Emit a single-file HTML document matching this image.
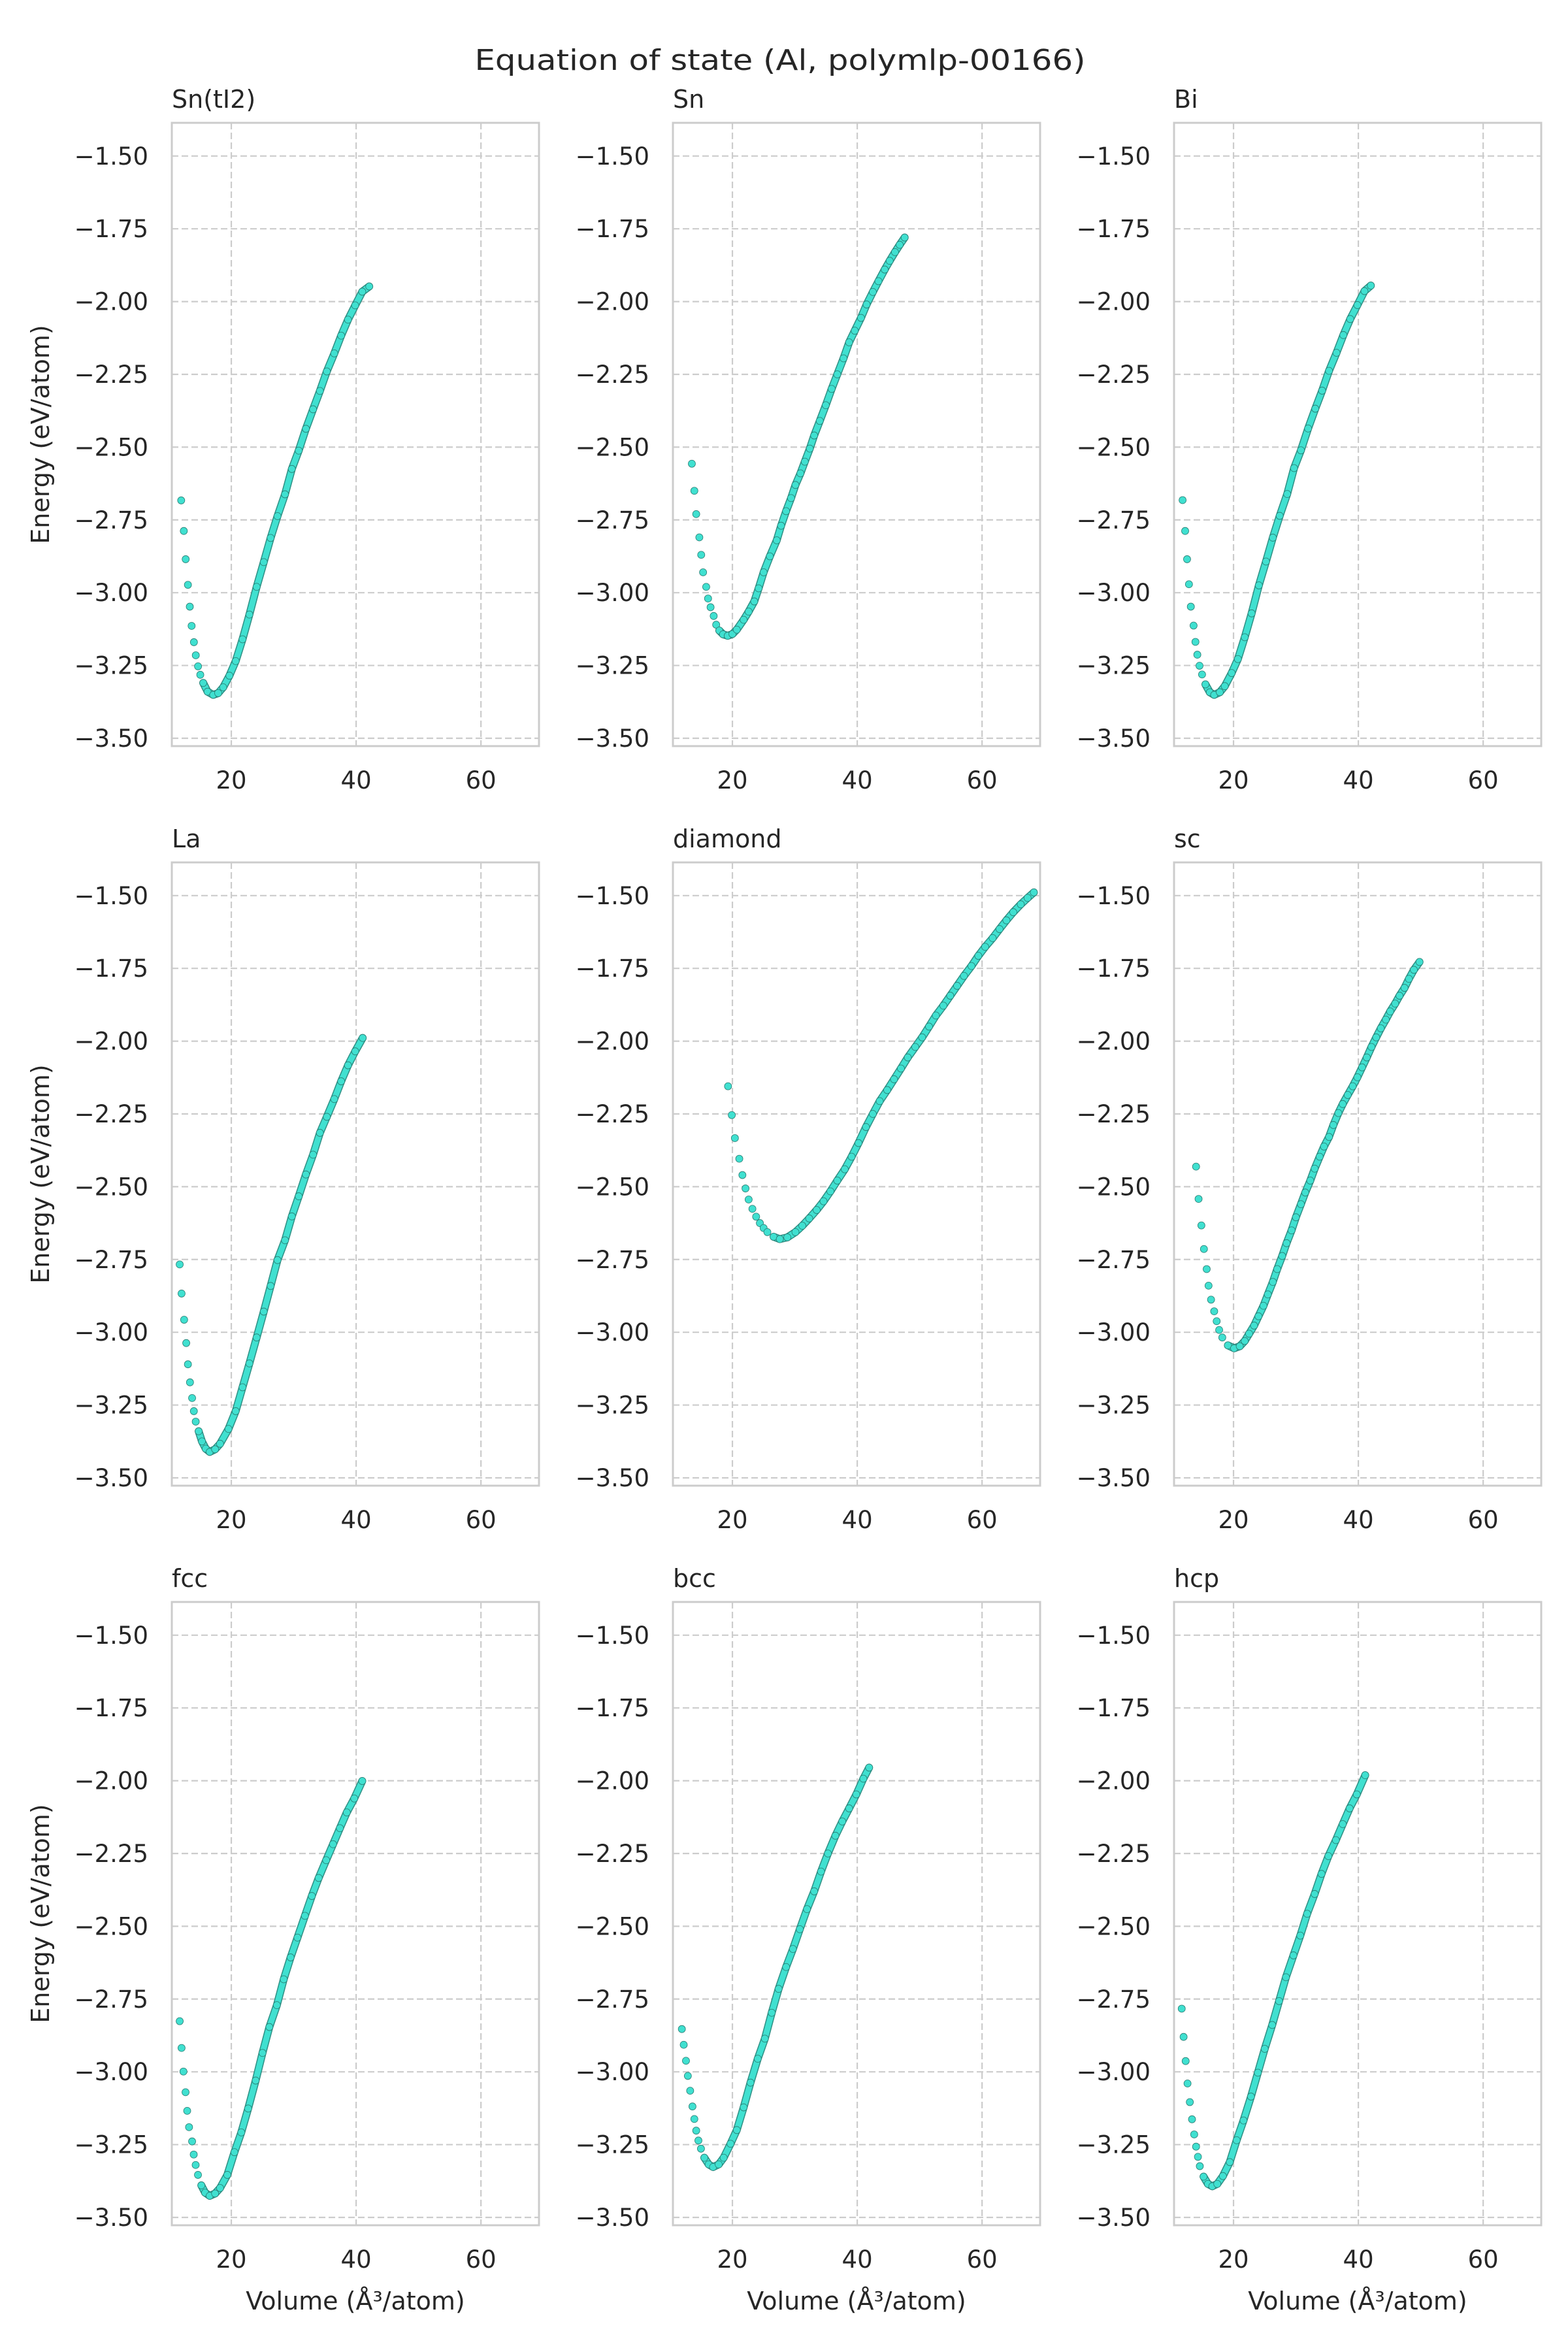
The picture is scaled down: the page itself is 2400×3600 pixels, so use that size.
<!DOCTYPE html>
<html><head><meta charset="utf-8"><style>
html,body{margin:0;padding:0;background:#fff;}
svg{display:block;font-family:"DejaVu Sans","Liberation Sans",sans-serif;}
</style></head><body>
<svg id="fig" width="2400" height="3600" viewBox="0 0 2400 3600">
<text x="1194" y="107" text-anchor="middle" font-size="44" fill="#262626" textLength="935" lengthAdjust="spacingAndGlyphs">Equation of state (Al, polymlp-00166)</text>
</svg>
<script>
// ---- data ----
const panelNames = ["Sn(tI2)","Sn","Bi","La","diamond","sc","fcc","bcc","hcp"];
const xTicks = [20,40,60];
const yTicks = [-1.5,-1.75,-2.0,-2.25,-2.5,-2.75,-3.0,-3.25,-3.5];
const yTickLabels = ["\u22121.50","\u22121.75","\u22122.00","\u22122.25","\u22122.50","\u22122.75","\u22123.00","\u22123.25","\u22123.50"];
const xTickLabels = ["20","40","60"];

const vSnTI2 = [11.97,12.39,12.69,13.05,13.35,13.64,14.01,14.31,14.67,15.03,15.5,16.2,17.1,17.9,18.7,19.7,20.7,21.8,22.9,24.06,25.2,26.3,27.4,28.6,29.7,30.8,31.95,33.1,34.2,35.3,36.5,37.6,38.7,39.85,40.98,42.1];
const eSnTI2 = [-2.683,-2.788,-2.885,-2.973,-3.048,-3.114,-3.17,-3.215,-3.253,-3.282,-3.31,-3.34,-3.351,-3.345,-3.325,-3.285,-3.235,-3.16,-3.075,-2.98,-2.895,-2.812,-2.737,-2.662,-2.575,-2.512,-2.437,-2.37,-2.307,-2.24,-2.178,-2.117,-2.062,-2.013,-1.966,-1.948];
const vSn = [13.5,13.9,14.2,14.7,15.0,15.3,15.8,16.1,16.5,17.0,17.4,17.9,18.5,19.25,20.0,20.7,21.8,22.6,23.5,24.2,25.0,26.0,27.1,27.8,28.6,29.4,30.1,30.9,31.6,32.4,33.1,34.0,34.96,35.9,36.8,37.8,38.7,39.6,40.6,41.5,42.5,43.4,44.4,45.2,46.05,46.8,47.6];
const eSn = [-2.557,-2.65,-2.73,-2.81,-2.87,-2.93,-2.98,-3.02,-3.05,-3.08,-3.11,-3.13,-3.143,-3.148,-3.142,-3.127,-3.093,-3.065,-3.03,-2.985,-2.93,-2.875,-2.82,-2.77,-2.72,-2.675,-2.63,-2.59,-2.55,-2.505,-2.46,-2.41,-2.356,-2.30,-2.25,-2.195,-2.14,-2.1,-2.056,-2.01,-1.967,-1.93,-1.89,-1.86,-1.83,-1.805,-1.78];
const vBi = [11.84,12.25,12.56,12.86,13.16,13.6,13.9,14.2,14.55,14.96,15.5,16.2,16.9,17.8,18.6,19.7,20.7,21.8,22.9,24.06,25.2,26.3,27.4,28.6,29.7,30.8,31.95,33.1,34.2,35.3,36.5,37.6,38.7,39.85,40.98,42.0];
const eBi = [-2.682,-2.788,-2.885,-2.971,-3.048,-3.113,-3.169,-3.213,-3.251,-3.281,-3.315,-3.342,-3.351,-3.342,-3.321,-3.276,-3.228,-3.153,-3.071,-2.975,-2.893,-2.811,-2.736,-2.661,-2.572,-2.511,-2.436,-2.368,-2.306,-2.238,-2.176,-2.115,-2.06,-2.012,-1.964,-1.945];
const vLa = [11.73,12.03,12.44,12.78,13.05,13.38,13.72,14.0,14.3,14.77,15.3,15.9,16.54,17.4,18.2,19.55,20.7,21.8,22.9,24.06,25.2,26.3,27.4,28.6,29.7,30.8,31.95,33.1,34.2,35.3,36.5,37.6,38.7,39.85,41.05];
const eLa = [-2.767,-2.867,-2.957,-3.037,-3.11,-3.172,-3.226,-3.271,-3.307,-3.34,-3.375,-3.4,-3.411,-3.402,-3.383,-3.332,-3.271,-3.189,-3.107,-3.018,-2.929,-2.841,-2.752,-2.684,-2.602,-2.533,-2.458,-2.39,-2.315,-2.26,-2.199,-2.138,-2.083,-2.035,-1.989];
const vDiamond = [19.3,19.9,20.4,21.1,21.6,22.1,22.6,23.2,23.8,24.4,25.0,25.6,26.6,27.6,28.8,30.1,31.2,32.3,33.5,34.6,35.7,36.8,38.0,39.1,40.2,41.4,42.5,43.6,44.8,45.9,47.0,48.1,49.3,50.4,51.5,52.6,53.8,54.9,56.0,57.1,58.3,59.4,60.5,61.7,62.8,63.9,65.0,66.2,67.3,68.3];
const eDiamond = [-2.155,-2.254,-2.333,-2.404,-2.46,-2.506,-2.544,-2.576,-2.603,-2.625,-2.642,-2.656,-2.672,-2.68,-2.674,-2.656,-2.634,-2.609,-2.58,-2.55,-2.516,-2.479,-2.44,-2.397,-2.35,-2.295,-2.25,-2.206,-2.168,-2.131,-2.094,-2.056,-2.02,-1.987,-1.95,-1.912,-1.878,-1.844,-1.81,-1.776,-1.742,-1.707,-1.676,-1.646,-1.615,-1.585,-1.557,-1.53,-1.508,-1.489];
const vSc = [14.0,14.4,14.85,15.26,15.7,16.0,16.4,16.9,17.3,17.7,18.2,19.1,20.1,21.0,21.8,22.5,23.3,24.0,24.8,25.5,26.3,27.0,27.8,28.5,29.3,30.0,30.8,31.5,32.3,33.0,33.8,34.5,35.3,36.0,36.8,37.5,38.3,39.1,39.85,40.6,41.35,42.1,42.86,43.6,44.4,45.1,45.9,46.6,47.4,48.1,48.9,49.8];
const eSc = [-2.431,-2.542,-2.633,-2.714,-2.783,-2.84,-2.888,-2.928,-2.962,-2.992,-3.018,-3.045,-3.055,-3.048,-3.03,-3.005,-2.977,-2.945,-2.909,-2.87,-2.827,-2.783,-2.738,-2.694,-2.65,-2.605,-2.56,-2.52,-2.479,-2.438,-2.397,-2.362,-2.329,-2.288,-2.247,-2.216,-2.185,-2.155,-2.124,-2.09,-2.056,-2.02,-1.987,-1.956,-1.926,-1.898,-1.871,-1.844,-1.817,-1.786,-1.755,-1.728];
const vFcc = [11.73,12.03,12.33,12.67,12.93,13.23,13.72,13.98,14.29,14.66,15.2,15.8,16.54,17.4,18.2,19.36,20.5,21.6,22.7,23.9,25.0,26.1,27.3,28.4,29.5,30.6,31.8,32.9,34.0,35.2,36.3,37.4,38.5,39.7,40.98];
const eFcc = [-2.826,-2.918,-2.999,-3.07,-3.134,-3.19,-3.239,-3.284,-3.32,-3.354,-3.39,-3.415,-3.426,-3.418,-3.399,-3.354,-3.276,-3.208,-3.126,-3.03,-2.935,-2.846,-2.771,-2.682,-2.607,-2.539,-2.464,-2.396,-2.334,-2.273,-2.218,-2.163,-2.109,-2.061,-2.001];
const vBcc = [11.9,12.2,12.56,12.86,13.23,13.6,13.9,14.2,14.55,14.96,15.5,16.2,16.9,17.8,18.6,19.7,20.7,21.8,22.9,24.06,25.2,26.3,27.4,28.6,29.7,30.8,31.95,33.1,34.2,35.3,36.5,37.6,38.7,39.85,40.98,41.9];
const eBcc = [-2.853,-2.907,-2.962,-3.014,-3.065,-3.119,-3.162,-3.202,-3.236,-3.264,-3.295,-3.318,-3.327,-3.318,-3.295,-3.247,-3.2,-3.122,-3.037,-2.955,-2.886,-2.797,-2.715,-2.64,-2.578,-2.51,-2.441,-2.38,-2.312,-2.25,-2.189,-2.14,-2.095,-2.047,-1.993,-1.955];
const vHcp = [11.7,12.0,12.33,12.63,13.0,13.35,13.7,14.0,14.3,14.6,15.2,15.9,16.6,17.4,18.3,19.4,20.5,21.6,22.8,23.9,25.0,26.2,27.3,28.4,29.6,30.7,31.8,33.0,34.1,35.2,36.4,37.5,38.6,39.75,41.1];
const eHcp = [-2.783,-2.88,-2.963,-3.04,-3.104,-3.163,-3.215,-3.257,-3.292,-3.324,-3.36,-3.385,-3.393,-3.385,-3.358,-3.31,-3.235,-3.167,-3.085,-3.003,-2.921,-2.839,-2.757,-2.675,-2.6,-2.532,-2.457,-2.389,-2.32,-2.259,-2.204,-2.149,-2.095,-2.047,-1.981];

const seriesV = [vSnTI2,vSn,vBi,vLa,vDiamond,vSc,vFcc,vBcc,vHcp];
const seriesE = [eSnTI2,eSn,eBi,eLa,eDiamond,eSc,eFcc,eBcc,eHcp];

const xMin = 10.47, xMax = 69.3, yMax = -1.386, yMin = -3.527;

// ---- layout ----
const NS = "http://www.w3.org/2000/svg";
const svg = document.getElementById('fig');
const colLeft = [263,1030,1797], rowTop = [188,1320,2452];
const W = 562, H = 954;
function mk(tag, attrs, parent){ const e = document.createElementNS(NS, tag); for (const k in attrs) e.setAttribute(k, attrs[k]); (parent||svg).appendChild(e); return e; }

panelNames.forEach((name, i) => {
  const r = Math.floor(i/3), c = i%3;
  const L = colLeft[c], T = rowTop[r];
  const sx = v => L + (v - xMin) / (xMax - xMin) * W;
  const sy = e => T + (yMax - e) / (yMax - yMin) * H;
  const g = mk('g', {});
  
  

  xTicks.forEach((t, k) => {
    const gl = mk('line', {x1:sx(t), x2:sx(t), y1:T, y2:T+H, stroke:'#cccccc', 'stroke-width':2.2, 'stroke-dasharray':'10,5'}, g);
    
    
    const tl = mk('text', {x:sx(t), y:T+H+65, 'text-anchor':'middle', 'font-size':37, fill:'#262626'}, g);
    tl.textContent = xTickLabels[k];
    
    
  });
  yTicks.forEach((t, k) => {
    const gl = mk('line', {x1:L, x2:L+W, y1:sy(t), y2:sy(t), stroke:'#cccccc', 'stroke-width':2.2, 'stroke-dasharray':'10,5'}, g);
    
    
    const tl = mk('text', {x:L-36, y:sy(t)+13, 'text-anchor':'end', 'font-size':37, fill:'#262626'}, g);
    tl.textContent = yTickLabels[k];
    
    
  });
  const fr = mk('rect', {x:L, y:T, width:W, height:H, fill:'none', stroke:'#cccccc', 'stroke-width':3}, g);
  
  
  const ti = mk('text', {x:L, y:T-23, 'font-size':38, fill:'#262626'}, g);
  ti.textContent = name;
  
  

  const vs = seriesV[i], es = seriesE[i];
  // dense region starts a bit before the minimum
  let jm = 0;
  es.forEach((e, j) => { if (e < es[jm]) jm = j; });
  const vStart = vs[jm] - 1.8;
  const pts = [];
  vs.forEach((v, j) => { if (v >= vStart) pts.push(sx(v) + ',' + sy(es[j])); });
  const b1 = mk('polyline', {points:pts.join(' '), fill:'none', stroke:'#2e8f84', 'stroke-width':12, 'stroke-linecap':'round', 'stroke-linejoin':'round'}, g);
  
  
  const b2 = mk('polyline', {points:pts.join(' '), fill:'none', stroke:'#40e0d0', 'stroke-width':9, 'stroke-linecap':'round', 'stroke-linejoin':'round'}, g);
  
  
  vs.forEach((v, j) => {
    const p = mk('circle', {cx:sx(v), cy:sy(es[j]), r:5.5, fill:'#40e0d0', stroke:'#2a7d73', 'stroke-width':0.8}, g);
    
    
  });

  if (c === 0) {
    const yl = mk('text', {x:0, y:0, 'text-anchor':'middle', 'font-size':38, fill:'#262626', transform:`translate(75,${T+H/2}) rotate(-90)`}, g);
    yl.textContent = 'Energy (eV/atom)';
    
    
  }
  if (r === 2) {
    const xl = mk('text', {x:L+W/2, y:3535, 'text-anchor':'middle', 'font-size':38, fill:'#262626'}, g);
    xl.textContent = 'Volume (\u00c5\u00b3/atom)';
    
    
  }
});
</script>
</body></html>
